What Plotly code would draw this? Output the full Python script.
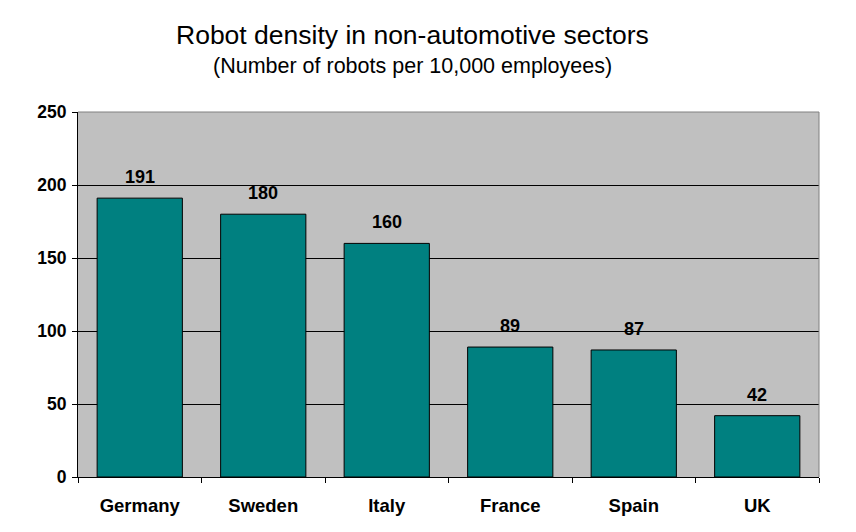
import plotly.graph_objects as go

countries = ["Germany", "Sweden", "Italy", "France", "Spain", "UK"]
density = [191, 180, 160, 89, 87, 42]
y_ticks = [0, 50, 100, 150, 200, 250]

FONT = "Arial, Liberation Sans, sans-serif"
TEAL = "#008080"
PLOT_BG = "#C0C0C0"

fig = go.Figure(
    go.Bar(
        x=countries,
        y=density,
        width=0.69,
        marker=dict(color=TEAL, line=dict(color="black", width=1)),
        showlegend=False,
    )
)

# value labels above the bars
for name, val in zip(countries, density):
    fig.add_annotation(
        x=name, y=val, text=f"<b>{val}</b>", showarrow=False,
        yanchor="bottom", yshift=9,
        font=dict(family=FONT, size=18, color="black"),
    )

fig.add_annotation(
    xref="paper", yref="paper", x=0.451, y=1.211,
    text="Robot density in non-automotive sectors", showarrow=False,
    xanchor="center", yanchor="middle",
    font=dict(family=FONT, size=26.5, color="black"),
)
fig.add_annotation(
    xref="paper", yref="paper", x=0.451, y=1.126,
    text="(Number of robots per 10,000 employees)", showarrow=False,
    xanchor="center", yanchor="middle",
    font=dict(family=FONT, size=21.5, color="black"),
)

# grey border on top and right of the plot area
for x0, y0, x1, y1 in [(0, 1, 1, 1), (1, 0, 1, 1)]:
    fig.add_shape(
        type="line", xref="paper", yref="paper", x0=x0, y0=y0, x1=x1, y1=y1,
        line=dict(color="#808080", width=1), layer="above",
    )

fig.update_xaxes(
    showline=True, linecolor="black", linewidth=1,
    ticks="outside", tickson="boundaries", ticklen=5, tickcolor="black",
    tickfont=dict(family=FONT, size=18.5, color="black"),
    tickvals=countries, ticktext=[f"<b>{c}</b>" for c in countries],
    ticklabelstandoff=12,
    showgrid=False,
)
fig.update_yaxes(
    range=[0, 250], tickvals=y_ticks, ticktext=[f"<b>{v}</b>" for v in y_ticks],
    showline=True, linecolor="black", linewidth=1,
    ticks="outside", ticklen=5, tickcolor="black",
    tickfont=dict(family=FONT, size=17.5, color="black"),
    ticklabelstandoff=2,
    showgrid=True, gridcolor="black", gridwidth=1,
    zeroline=False,
)
# page has an 8px body margin, so the figure is sized to fit the window
fig.update_layout(
    width=848, height=524,
    margin=dict(l=70, r=37, t=104, b=55),
    plot_bgcolor=PLOT_BG, paper_bgcolor="white",
    font=dict(family=FONT, color="black"),
    bargap=0.31,
)

fig.write_html("out.html")
